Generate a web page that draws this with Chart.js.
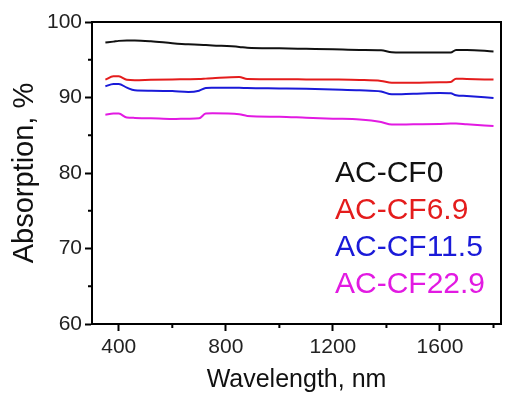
<!DOCTYPE html>
<html>
<head>
<meta charset="utf-8">
<script src="https://cdn.jsdelivr.net/npm/chart.js@4/dist/chart.umd.min.js"></script>
<style>
    html, body { margin: 0; padding: 0; background: #fff; }
    #wrap { width: 507px; height: 393px; }
</style>
</head>
<body>
<div id="wrap"><canvas id="myChart" width="507" height="393"></canvas></div>
<script>
// ---------- data ----------
const wavelength = [350, 380, 400, 430, 460, 520, 600, 660, 700, 725, 750, 850, 880,
    1000, 1100, 1200, 1300, 1380, 1420, 1500, 1600, 1640, 1660, 1700, 1800];
const cf0   = [97.27, 97.4, 97.5, 97.55, 97.55, 97.45, 97.2, 97.05, 97.0, 96.95, 96.9, 96.7, 96.6,
    96.52, 96.45, 96.38, 96.3, 96.25, 96.0, 95.95, 95.95, 95.95, 96.3, 96.3, 96.1];
const cf69  = [92.37, 92.8, 92.8, 92.35, 92.3, 92.35, 92.4, 92.42, 92.45, 92.5, 92.55, 92.7, 92.45,
    92.42, 92.4, 92.38, 92.33, 92.2, 91.97, 91.97, 92.02, 92.05, 92.5, 92.45, 92.37];
const cf115 = [91.48, 91.8, 91.8, 91.3, 90.95, 90.9, 90.85, 90.73, 90.9, 91.25, 91.28, 91.3, 91.25,
    91.2, 91.15, 91.05, 90.95, 90.8, 90.42, 90.5, 90.6, 90.55, 90.3, 90.2, 89.93];
const cf229 = [87.73, 87.87, 87.87, 87.34, 87.3, 87.25, 87.15, 87.2, 87.25, 87.87, 87.9, 87.78, 87.56,
    87.45, 87.32, 87.2, 87.1, 86.76, 86.41, 86.45, 86.5, 86.54, 86.55, 86.45, 86.23];

const seriesNames  = ['AC-CF0', 'AC-CF6.9', 'AC-CF11.5', 'AC-CF22.9'];
const seriesColors = ['#111111', '#e41c1c', '#1a1ad8', '#e21ae2'];

const xMajorTicks = [400, 800, 1200, 1600];
const xMinorTicks = [600, 1000, 1400, 1800];
const yMinorTicks = [65, 75, 85, 95];

// ---------- helpers ----------
function toPoints(ys) {
    return wavelength.map((x, i) => ({x: x, y: ys[i]}));
}

// box round the plot, minor ticks, in-plot legend
const framePlugin = {
    id: 'frame',
    afterDraw(chart) {
        const ctx = chart.ctx;
        const a = chart.chartArea;
        const xs = chart.scales.x;
        const ys = chart.scales.y;
        ctx.save();
        ctx.strokeStyle = '#000';
        ctx.lineWidth = 2;
        ctx.strokeRect(a.left, a.top, a.right - a.left, a.bottom - a.top);

        // minor ticks (outward)
        ctx.beginPath();
        xMinorTicks.forEach(v => {
            const px = xs.getPixelForValue(v);
            ctx.moveTo(px, a.bottom);
            ctx.lineTo(px, a.bottom + 4);
        });
        yMinorTicks.forEach(v => {
            const py = ys.getPixelForValue(v);
            ctx.moveTo(a.left, py);
            ctx.lineTo(a.left - 4, py);
        });
        ctx.stroke();

        // legend text
        ctx.font = '30px "Liberation Sans", Arial, sans-serif';
        ctx.textAlign = 'left';
        ctx.textBaseline = 'alphabetic';
        chart.data.datasets.forEach((ds, i) => {
            ctx.fillStyle = ds.borderColor;
            ctx.fillText(ds.label, a.right - 166, a.top + 160 + i * 37);
        });
        ctx.restore();
    }
};

const data = {
    datasets: [
        {label: seriesNames[0], data: toPoints(cf0),   borderColor: seriesColors[0]},
        {label: seriesNames[1], data: toPoints(cf69),  borderColor: seriesColors[1]},
        {label: seriesNames[2], data: toPoints(cf115), borderColor: seriesColors[2]},
        {label: seriesNames[3], data: toPoints(cf229), borderColor: seriesColors[3]}
    ]
};

const config = {
    type: 'line',
    data: data,
    options: {
        responsive: false,
        animation: false,
        layout: {
            padding: {top: 22, right: 6, left: 0, bottom: 0}
        },
        elements: {
            line: {borderWidth: 2, cubicInterpolationMode: 'monotone', fill: false},
            point: {radius: 0}
        },
        plugins: {
            legend: {display: false},
            tooltip: {enabled: false}
        },
        scales: {
            x: {
                type: 'linear',
                min: 300,
                max: 1828,
                afterBuildTicks: (scale) => {
                    scale.ticks = xMajorTicks.map(v => ({value: v}));
                },
                afterFit: (scale) => { scale.height = 69; },
                grid: {
                    drawOnChartArea: false,
                    color: '#000',
                    tickLength: 7,
                    tickWidth: 2
                },
                border: {color: '#000', width: 2},
                ticks: {
                    color: '#222',
                    padding: 4,
                    maxRotation: 0,
                    callback: (v) => String(v),
                    font: {family: '"Liberation Sans", Arial, sans-serif', size: 21}
                },
                title: {
                    display: true,
                    text: 'Wavelength, nm',
                    color: '#111',
                    padding: {top: 0, bottom: 0},
                    font: {family: '"Liberation Sans", Arial, sans-serif', size: 25, lineHeight: 1}
                }
            },
            y: {
                min: 60,
                max: 100,
                afterFit: (scale) => { scale.width = 92; },
                grid: {
                    drawOnChartArea: false,
                    color: '#000',
                    tickLength: 7,
                    tickWidth: 2
                },
                border: {color: '#000', width: 2},
                ticks: {
                    stepSize: 10,
                    color: '#222',
                    padding: 3,
                    callback: (v) => String(v),
                    font: {family: '"Liberation Sans", Arial, sans-serif', size: 21}
                },
                title: {
                    display: true,
                    text: 'Absorption, %',
                    color: '#111',
                    padding: {top: 10, bottom: 0},
                    font: {family: '"Liberation Sans", Arial, sans-serif', size: 29, lineHeight: 1}
                }
            }
        }
    },
    plugins: [framePlugin]
};

const myChart = new Chart(
    document.getElementById('myChart'),
    config
);
</script>
</body>
</html>
